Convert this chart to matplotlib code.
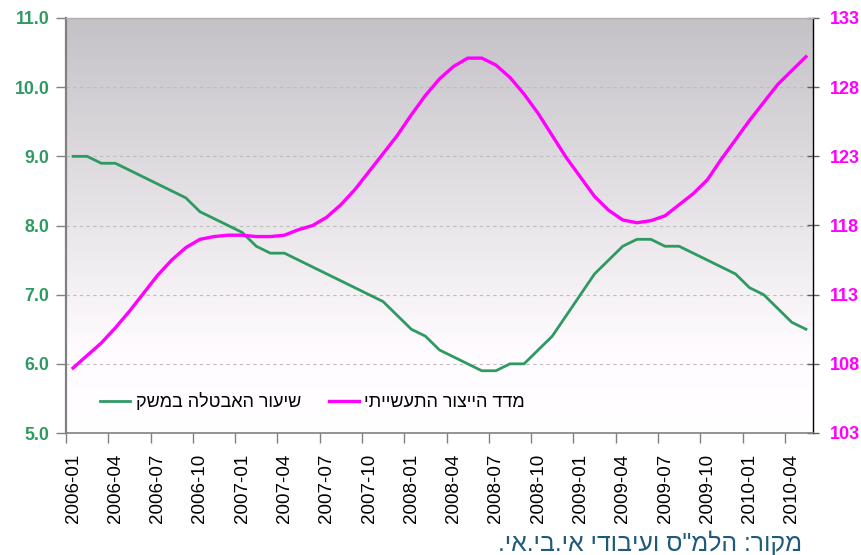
import numpy as np
import matplotlib
matplotlib.use('Agg')
import matplotlib.pyplot as plt
from matplotlib.lines import Line2D
import pandas as pd

months = [p.strftime('%Y-%m') for p in pd.period_range('2006-01', '2010-05', freq='M')]

unemployment = [9.0, 9.0, 8.9, 8.9, 8.8, 8.7, 8.6, 8.5, 8.4, 8.2,
                8.1, 8.0, 7.9, 7.7, 7.6, 7.6, 7.5, 7.4, 7.3, 7.2,
                7.1, 7.0, 6.9, 6.7, 6.5, 6.4, 6.2, 6.1, 6.0, 5.9,
                5.9, 6.0, 6.0, 6.2, 6.4, 6.7, 7.0, 7.3, 7.5, 7.7,
                7.8, 7.8, 7.7, 7.7, 7.6, 7.5, 7.4, 7.3, 7.1, 7.0,
                6.8, 6.6, 6.5]

industrial = [107.7, 108.6, 109.5, 110.6, 111.8, 113.1, 114.4, 115.5, 116.4, 117.0,
              117.2, 117.3, 117.3, 117.2, 117.2, 117.3, 117.7, 118.0, 118.6, 119.5,
              120.6, 121.9, 123.2, 124.5, 126.0, 127.4, 128.6, 129.5, 130.1, 130.1,
              129.6, 128.7, 127.5, 126.1, 124.5, 122.9, 121.5, 120.1, 119.1, 118.4,
              118.2, 118.35, 118.7, 119.5, 120.3, 121.3, 122.8, 124.2, 125.6, 126.9,
              128.2, 129.2, 130.2]

left_ticks = [5, 6, 7, 8, 9, 10, 11]
right_ticks = [103, 108, 113, 118, 123, 128, 133]

label_unemp = "שיעור האבטלה במשק"
label_ind = "מדד הייצור התעשייתי"
source_text = 'מקור: הלמ"ס ועיבודי אי.בי.אי.'

GREEN = '#2E9A62'
MAGENTA = '#FF00FF'
FONT = ['Liberation Sans', 'DejaVu Sans']
plt.rcParams['font.family'] = FONT

def rtl(s):
    return s[::-1]

W, H = 862, 555
fig = plt.figure(figsize=(W / 100, H / 100), dpi=100)
ax = fig.add_axes([66 / W, 1 - 433 / H, 747 / W, 415 / H])
ax2 = ax.twinx()

n = len(months)
x = np.arange(n) + 0.5

# gradient background
top = np.array([0.772, 0.760, 0.780])
mid = np.array([1.0, 0.985, 1.0])
t = np.linspace(0, 1, 300)[:, None]
grad = np.where(t < 0.8, top + (mid - top) * (t / 0.8), mid + (np.array([1, 1, 1]) - mid) * ((t - 0.8) / 0.2))
ax.imshow(grad[:, None, :], extent=[0, n, 5, 11], aspect='auto', zorder=0, interpolation='bilinear')

ax.set_xlim(0, n)
ax.set_ylim(5, 11)
ax2.set_ylim(103, 133)

for v in left_ticks[1:-1]:
    ax.axhline(v, color='#BDBDBD', lw=0.8, ls=(0, (3, 3)), zorder=1)

ax.plot(x, unemployment, color=GREEN, lw=2.0, zorder=3, solid_joinstyle='round')
ax2.plot(x, industrial, color=MAGENTA, lw=2.4, zorder=3, solid_joinstyle='round')

# y ticks
ax.set_yticks(left_ticks)
ax.set_yticklabels([f"{v:.1f}" for v in left_ticks], color=GREEN, fontweight='bold', fontsize=12.8)
ax.tick_params(axis='y', direction='out', length=7, width=1, color='#808080', pad=5)
ax2.set_yticks(right_ticks)
ax2.set_yticklabels([str(v) for v in right_ticks], color=MAGENTA, fontweight='bold', fontsize=13)
ax2.tick_params(axis='y', direction='inout', length=9, width=1, color='#606060', pad=8)

# x ticks
ax.set_xticks(x[::3])
ax.set_xticklabels(months[::3], rotation=90, fontsize=13.5, color='black')
ax.tick_params(axis='x', which='major', length=0, pad=15)
ax.set_xticks(np.arange(0, n, 3), minor=True)
ax.tick_params(axis='x', which='minor', length=7, width=1, color='#808080', direction='out')

for s in ['left', 'bottom', 'top', 'right']:
    ax.spines[s].set_visible(False)
ax2.spines['left'].set_color('#808080')
ax2.spines['left'].set_linewidth(1.6)
ax2.spines['bottom'].set_color('#808080')
ax2.spines['bottom'].set_linewidth(1.2)
ax2.spines['top'].set_color('#B0B0B0')
ax2.spines['top'].set_linewidth(1.0)
ax2.spines['right'].set_color('black')
ax2.spines['right'].set_linewidth(1.0)

handles = [Line2D([], [], color=GREEN, lw=2.0), Line2D([], [], color=MAGENTA, lw=2.4)]
ax2.legend(handles, [rtl(label_unemp), rtl(label_ind)], ncol=2, frameon=False,
           loc='center left', bbox_to_anchor=(0.0243, 0.074), handlelength=1.65,
           handletextpad=0.3, columnspacing=1.55, prop={'family': FONT, 'size': 13})

fig.text(802 / W, 1 - 551 / H, rtl(source_text), ha='right', va='baseline',
         fontsize=17.8, color='#1F5A7A', family=FONT)

fig.savefig('out.png', dpi=100)
